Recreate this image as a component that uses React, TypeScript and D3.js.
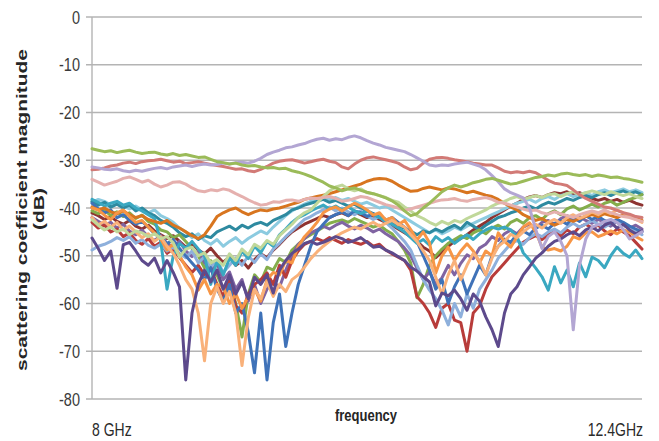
import React from "react";
import * as d3 from "d3";

// frequency grid: 8.00 GHz .. 12.40 GHz, 89 samples
const FREQ_START = 8;
const FREQ_END = 12.4;
const FREQ_STEP = 0.05;
const yTicks = [0, -10, -20, -30, -40, -50, -60, -70, -80];
const xEdgeLabels = ["8 GHz", "12.4GHz"];
const xTitle = "frequency";
const yTitleLines = ["scattering coefficient magnitude", "(dB)"];

const sGreen = [
  -27.6,-27.9,-28.2,-28.0,-28.4,-28.1,-27.9,-28.3,-28.6,-28.4,
  -28.3,-28.7,-28.9,-28.6,-29.0,-28.8,-29.1,-29.4,-29.3,-29.8,
  -30.3,-30.5,-30.8,-30.6,-31.0,-31.2,-31.1,-31.4,-31.6,-31.5,
  -31.8,-31.7,-32.2,-32.5,-32.9,-33.4,-34.0,-34.6,-35.4,-35.8,
  -36.4,-36.0,-35.8,-36.3,-36.7,-37.0,-37.4,-37.9,-38.5,-39.4,
  -40.6,-41.6,-41.2,-40.0,-39.0,-37.8,-36.6,-35.8,-35.2,-35.6,
  -35.2,-34.7,-34.4,-34.0,-33.8,-34.2,-34.6,-35.0,-34.8,-34.4,
  -34.0,-33.6,-33.4,-33.1,-33.3,-32.9,-32.7,-33.0,-33.2,-33.0,
  -33.4,-33.1,-33.3,-33.6,-33.5,-33.8,-34.0,-34.3,-34.6,
];
const sRose = [
  -32.0,-31.9,-31.6,-31.2,-31.0,-30.6,-30.4,-30.7,-30.3,-30.1,
  -30.0,-29.8,-30.1,-30.4,-30.2,-30.7,-30.5,-30.3,-30.6,-30.9,
  -31.1,-31.3,-31.6,-31.9,-31.8,-32.2,-32.4,-31.9,-31.3,-30.6,
  -30.2,-30.0,-29.9,-30.2,-30.6,-30.3,-30.0,-29.8,-30.2,-30.5,
  -31.4,-31.8,-30.8,-30.0,-29.5,-29.3,-29.6,-29.9,-30.2,-30.6,
  -31.4,-32.0,-31.7,-30.6,-29.8,-29.5,-29.4,-29.6,-29.9,-30.1,
  -30.3,-30.6,-30.8,-31.0,-31.0,-31.6,-32.3,-32.6,-32.4,-32.6,
  -32.3,-32.6,-33.4,-34.2,-34.8,-35.0,-35.3,-36.2,-37.2,-38.0,
  -38.6,-39.2,-39.8,-40.0,-40.5,-41.0,-41.3,-41.8,-42.0,
];
const sLavender = [
  -31.4,-31.6,-31.9,-32.0,-31.8,-32.2,-32.4,-32.1,-32.3,-32.0,
  -31.7,-31.5,-31.8,-31.4,-31.2,-31.0,-31.3,-31.0,-30.8,-31.0,
  -30.9,-30.6,-30.8,-30.5,-30.4,-30.6,-30.2,-29.6,-28.8,-28.3,
  -27.9,-27.4,-27.2,-26.8,-26.5,-26.0,-25.6,-25.4,-25.8,-25.5,
  -25.7,-25.2,-24.9,-25.3,-25.9,-26.4,-26.8,-27.3,-27.6,-27.9,
  -28.2,-28.8,-29.5,-30.2,-31.0,-31.2,-31.0,-31.1,-30.8,-30.6,
  -30.4,-30.8,-31.2,-32.0,-33.2,-34.5,-36.0,-36.8,-37.3,-37.9,
  -40.0,-44.5,-48.5,-46.0,-45.0,-47.0,-50.0,-65.5,-52.0,-46.5,
  -44.0,-43.5,-42.8,-42.4,-43.0,-44.5,-46.5,-45.8,-45.0,
];
const sPink = [
  -34.0,-34.6,-35.2,-34.8,-34.4,-33.8,-33.5,-34.0,-34.6,-34.2,
  -35.0,-35.6,-35.2,-34.6,-34.5,-35.0,-35.8,-36.4,-36.6,-36.2,
  -36.4,-36.0,-36.3,-37.0,-37.6,-38.3,-38.9,-39.4,-39.2,-38.7,
  -38.8,-38.4,-38.3,-38.6,-38.2,-37.9,-38.0,-37.8,-37.6,-38.0,
  -38.6,-38.4,-38.0,-37.6,-37.8,-38.3,-38.8,-39.3,-39.6,-40.0,
  -40.5,-40.2,-39.8,-39.4,-39.0,-38.6,-38.3,-38.2,-38.0,-38.4,
  -38.6,-38.2,-38.0,-37.8,-38.2,-38.8,-39.0,-39.4,-39.8,-40.2,
  -40.6,-40.4,-41.0,-41.3,-40.8,-41.2,-41.6,-42.0,-41.4,-41.0,
  -40.6,-41.0,-40.4,-41.0,-41.4,-41.8,-42.0,-42.4,-42.8,
];
const sBrown = [
  -39.8,-40.4,-40.0,-40.8,-41.2,-40.6,-41.4,-42.0,-41.6,-42.4,
  -42.8,-43.2,-42.6,-43.6,-44.2,-45.0,-45.8,-46.4,-45.6,-43.8,
  -41.8,-41.0,-40.4,-40.0,-40.8,-41.4,-40.8,-40.4,-40.6,-40.2,
  -40.0,-39.6,-39.2,-38.8,-38.2,-37.9,-37.6,-37.3,-37.0,-36.6,
  -36.2,-35.8,-35.4,-35.0,-34.4,-34.0,-33.8,-33.9,-34.4,-35.2,
  -35.9,-36.5,-36.4,-35.9,-35.6,-35.9,-36.2,-35.8,-36.0,-36.4,
  -36.8,-36.5,-36.9,-37.3,-37.6,-38.2,-39.0,-39.8,-40.4,-41.4,
  -42.0,-42.6,-42.2,-43.0,-43.6,-43.0,-42.4,-42.8,-42.2,-41.8,
  -41.4,-41.8,-41.2,-41.6,-42.0,-41.4,-41.8,-42.2,-42.6,
];
const sDarkPurple = [
  -46.3,-48.5,-51.0,-49.0,-56.8,-47.7,-47.2,-49.0,-51.0,-52.0,
  -50.5,-53.6,-51.0,-53.5,-56.5,-76.0,-62.0,-56.0,-53.0,-55.5,
  -53.0,-57.0,-54.0,-58.0,-55.5,-59.0,-54.5,-56.0,-54.0,-57.8,
  -53.0,-51.0,-49.5,-48.6,-47.4,-47.0,-47.6,-47.2,-46.6,-46.0,
  -46.4,-47.2,-46.8,-46.2,-47.2,-48.2,-48.0,-48.8,-49.4,-50.2,
  -51.0,-52.4,-53.2,-54.4,-55.5,-60.5,-57.8,-58.4,-57.2,-59.0,
  -61.4,-58.0,-59.5,-62.8,-65.5,-69.0,-62.0,-58.0,-56.5,-54.0,
  -52.3,-50.5,-49.4,-48.0,-47.0,-46.5,-45.6,-45.0,-45.8,-44.6,
  -44.0,-44.8,-43.6,-43.0,-44.2,-43.4,-44.6,-45.4,-44.8,
];
const sPeach = [
  -42.0,-43.5,-42.8,-44.0,-43.0,-44.6,-43.8,-45.0,-46.2,-45.4,
  -47.0,-46.0,-48.0,-49.5,-52.0,-55.0,-57.0,-62.0,-72.0,-60.0,
  -56.5,-60.0,-57.5,-62.0,-73.0,-63.0,-57.0,-59.0,-55.5,-58.5,
  -56.0,-57.5,-55.0,-54.0,-52.4,-50.6,-49.2,-48.0,-47.0,-46.0,
  -45.2,-44.6,-44.0,-44.4,-43.6,-43.0,-43.8,-43.2,-42.6,-43.4,
  -44.0,-45.6,-47.0,-49.0,-51.0,-54.5,-58.0,-54.0,-51.0,-55.0,
  -52.0,-49.5,-51.0,-54.0,-50.5,-48.0,-47.0,-45.5,-46.2,-45.0,
  -44.0,-43.4,-44.2,-43.0,-42.4,-43.2,-42.0,-41.4,-42.2,-41.6,
  -40.8,-41.4,-40.6,-41.2,-40.4,-41.0,-41.8,-42.4,-43.0,
];
const sOrange = [
  -40.0,-40.4,-41.5,-42.4,-41.0,-40.4,-41.8,-43.0,-42.6,-44.0,
  -45.2,-46.5,-48.8,-47.5,-50.0,-52.3,-54.0,-57.2,-55.0,-58.0,
  -56.0,-56.5,-60.0,-58.0,-61.0,-58.6,-57.0,-59.5,-55.0,-53.5,
  -54.0,-51.0,-51.5,-48.0,-46.0,-44.6,-43.0,-41.0,-40.2,-39.8,
  -40.6,-39.8,-39.0,-39.6,-40.4,-41.5,-41.0,-42.5,-42.0,-43.5,
  -42.6,-44.5,-46.7,-45.0,-47.3,-53.6,-50.0,-48.2,-51.0,-49.0,
  -47.5,-49.0,-51.5,-49.0,-50.0,-45.2,-47.0,-48.2,-46.0,-44.0,
  -43.1,-45.0,-48.2,-48.8,-48.5,-49.0,-48.0,-46.0,-46.5,-45.2,
  -45.0,-46.0,-45.5,-44.8,-45.4,-44.6,-45.0,-46.0,-46.7,
];
const sBlue = [
  -39.0,-40.2,-41.0,-40.4,-42.0,-41.4,-42.6,-43.4,-42.8,-44.0,
  -45.4,-46.0,-47.5,-46.6,-48.5,-50.0,-51.5,-53.0,-55.0,-52.5,
  -57.0,-59.5,-56.0,-62.0,-60.0,-66.0,-74.5,-62.0,-76.0,-64.0,
  -58.0,-69.0,-62.0,-56.0,-52.0,-48.0,-45.0,-43.4,-42.0,-41.4,
  -40.8,-41.6,-40.6,-41.0,-41.8,-41.2,-42.0,-42.6,-42.0,-43.0,
  -44.0,-45.2,-47.0,-50.0,-53.0,-57.0,-55.0,-60.0,-56.5,-54.0,
  -58.0,-55.0,-52.0,-54.0,-50.0,-48.0,-46.5,-47.2,-45.5,-44.8,
  -45.6,-44.2,-43.6,-44.4,-43.2,-42.6,-43.4,-42.0,-42.8,-41.6,
  -42.4,-41.8,-42.6,-43.2,-42.4,-43.0,-43.8,-44.4,-45.0,
];
const sLightBlue = [
  -48.8,-48.0,-47.6,-47.0,-46.2,-46.8,-46.0,-47.4,-46.6,-47.8,
  -48.4,-47.6,-49.0,-48.2,-49.6,-50.4,-49.0,-51.5,-50.2,-52.4,
  -51.0,-53.5,-52.0,-50.5,-52.0,-50.0,-51.4,-49.6,-50.8,-48.6,
  -47.4,-46.0,-44.8,-43.6,-42.4,-41.8,-41.0,-40.4,-39.8,-40.6,
  -40.0,-40.8,-41.4,-40.6,-41.6,-42.4,-41.8,-43.0,-44.2,-45.6,
  -47.0,-48.8,-52.0,-55.0,-57.2,-59.0,-61.4,-64.5,-60.0,-62.8,
  -58.0,-61.0,-57.0,-55.0,-53.0,-50.5,-49.0,-47.5,-46.8,-47.6,
  -46.2,-45.4,-46.0,-45.0,-44.4,-45.2,-44.0,-43.2,-44.0,-43.4,
  -42.6,-43.4,-44.0,-43.2,-42.8,-43.6,-44.2,-44.8,-45.6,
];
const sDarkRed = [
  -43.0,-44.2,-43.6,-45.0,-44.4,-46.0,-45.2,-46.8,-47.6,-46.4,
  -48.0,-47.2,-49.5,-48.6,-50.4,-52.0,-53.5,-52.0,-54.0,-52.6,
  -56.0,-58.5,-55.0,-60.5,-62.0,-58.0,-56.0,-55.0,-53.6,-56.0,
  -52.0,-54.5,-51.0,-49.0,-47.6,-47.0,-46.4,-47.0,-46.2,-46.8,
  -47.4,-46.6,-47.2,-47.6,-47.0,-48.0,-47.6,-48.8,-49.6,-50.3,
  -51.0,-53.0,-58.6,-60.0,-62.0,-65.0,-61.0,-60.0,-63.5,-64.0,
  -70.0,-62.0,-60.5,-57.0,-54.4,-53.0,-51.5,-50.0,-48.6,-47.2,
  -46.4,-45.8,-46.6,-45.6,-45.0,-45.8,-44.6,-45.4,-44.0,-43.4,
  -44.2,-43.6,-44.8,-45.6,-44.4,-45.0,-45.8,-47.2,-48.6,
];
const sMidGreen = [
  -40.6,-41.2,-40.4,-41.6,-40.8,-41.8,-41.0,-42.2,-41.5,-42.8,
  -43.4,-44.6,-45.0,-46.2,-45.6,-47.0,-48.5,-50.0,-52.5,-51.0,
  -54.0,-57.0,-55.5,-60.0,-67.0,-58.0,-54.0,-55.5,-52.4,-53.0,
  -50.6,-51.4,-48.8,-47.6,-46.4,-45.6,-44.8,-44.0,-43.2,-42.8,
  -42.5,-43.0,-42.2,-42.8,-43.4,-44.0,-43.6,-44.6,-45.4,-47.0,
  -48.8,-51.5,-58.8,-56.0,-52.0,-50.0,-48.6,-47.4,-46.6,-45.8,
  -46.4,-45.2,-44.6,-45.4,-44.2,-43.6,-44.4,-43.0,-42.4,-43.2,
  -42.0,-41.6,-42.4,-41.2,-40.6,-41.4,-40.2,-39.6,-40.4,-39.8,
  -39.2,-39.8,-39.0,-38.6,-39.4,-38.8,-38.2,-37.8,-37.2,
];
const sPaleGreen = [
  -42.5,-43.6,-44.6,-44.0,-45.0,-44.4,-45.6,-44.8,-45.2,-46.0,
  -45.4,-46.4,-46.0,-47.3,-50.3,-48.6,-48.2,-50.0,-49.4,-51.5,
  -50.8,-52.0,-49.6,-51.0,-48.6,-49.8,-47.6,-48.4,-46.8,-47.6,
  -45.8,-44.6,-43.4,-42.0,-41.0,-40.4,-39.0,-37.6,-36.4,-35.6,
  -35.2,-36.0,-36.4,-36.0,-36.8,-37.0,-37.4,-37.8,-38.4,-38.8,
  -39.8,-40.6,-41.6,-42.2,-43.0,-43.6,-42.8,-43.4,-42.6,-43.0,
  -42.2,-41.6,-41.0,-40.4,-39.6,-39.0,-38.6,-38.0,-37.6,-38.2,
  -37.8,-37.4,-37.8,-37.2,-37.0,-37.6,-37.0,-36.6,-37.2,-36.8,
  -36.4,-36.8,-37.2,-36.6,-37.0,-37.4,-37.0,-37.6,-38.0,
];
const sTeal = [
  -38.6,-39.4,-38.8,-39.8,-39.2,-40.0,-39.4,-40.6,-40.0,-41.0,
  -41.6,-42.6,-43.2,-44.0,-45.2,-46.0,-45.4,-46.6,-45.8,-46.2,
  -45.0,-44.4,-43.8,-44.6,-43.6,-44.2,-43.4,-43.0,-43.6,-42.6,
  -42.0,-41.4,-40.4,-40.0,-39.4,-39.0,-38.6,-38.2,-38.8,-38.4,
  -39.0,-39.6,-39.2,-40.0,-40.6,-41.2,-41.8,-42.4,-43.0,-43.8,
  -44.2,-44.8,-45.6,-44.8,-45.2,-44.4,-45.0,-44.2,-43.6,-44.4,
  -43.0,-43.8,-44.6,-43.6,-42.8,-42.0,-41.6,-41.0,-40.6,-40.0,
  -39.6,-40.2,-39.4,-38.8,-39.2,-38.6,-38.0,-38.4,-37.8,-37.4,
  -37.8,-37.2,-36.8,-37.4,-36.8,-36.4,-37.0,-36.6,-37.2,
];
const sCyan = [
  -38.2,-38.8,-39.6,-39.0,-38.6,-39.4,-39.0,-40.0,-40.6,-41.4,
  -42.2,-47.0,-57.0,-50.0,-47.5,-48.4,-47.0,-48.6,-50.0,-56.0,
  -51.0,-54.0,-50.5,-52.0,-49.0,-50.6,-48.0,-49.4,-47.0,-48.0,
  -45.6,-44.4,-43.0,-42.0,-41.4,-40.6,-40.0,-39.4,-40.2,-39.6,
  -40.4,-39.8,-40.6,-41.2,-40.6,-41.4,-42.0,-42.8,-43.4,-44.2,
  -45.0,-46.2,-47.4,-46.6,-47.8,-46.0,-47.0,-46.2,-47.4,-46.4,
  -45.6,-46.6,-45.4,-44.6,-44.0,-44.4,-44.0,-44.6,-46.0,-49.4,
  -50.9,-52.6,-54.4,-57.2,-52.3,-55.7,-53.0,-56.5,-51.5,-54.4,
  -50.3,-51.0,-52.5,-50.0,-48.2,-49.5,-50.3,-48.8,-50.6,
];
const sMaroon = [
  -41.0,-41.6,-42.4,-41.8,-42.8,-43.4,-42.6,-43.8,-44.4,-43.6,
  -44.8,-45.6,-46.4,-45.8,-47.0,-48.2,-47.4,-48.8,-49.6,-48.4,
  -50.0,-51.4,-50.2,-52.0,-51.0,-52.6,-50.8,-49.6,-50.4,-48.8,
  -47.6,-46.2,-45.0,-44.2,-43.4,-42.8,-42.2,-41.6,-42.0,-41.4,
  -41.0,-41.6,-40.8,-41.4,-42.0,-41.6,-42.4,-43.0,-43.6,-44.4,
  -45.2,-46.0,-47.0,-48.2,-49.0,-50.4,-49.2,-48.0,-47.0,-46.4,
  -45.6,-44.6,-43.8,-43.0,-42.0,-41.2,-40.4,-39.6,-39.0,-38.2,
  -37.7,-37.4,-37.8,-37.2,-36.8,-37.0,-36.6,-37.2,-36.8,-37.4,
  -38.0,-38.4,-38.0,-38.6,-38.2,-38.8,-38.4,-39.0,-39.4,
];
const sPurple = [
  -42.0,-42.8,-43.6,-43.0,-44.2,-43.4,-44.8,-45.6,-44.6,-46.0,
  -46.8,-45.8,-47.4,-48.2,-47.0,-49.0,-50.2,-49.0,-51.4,-53.0,
  -51.6,-55.0,-53.4,-57.0,-55.0,-59.5,-56.0,-60.0,-57.0,-55.4,
  -56.6,-53.0,-50.0,-47.6,-46.4,-45.2,-44.6,-43.8,-44.4,-43.6,
  -43.0,-43.8,-44.4,-43.6,-44.2,-45.0,-44.4,-45.4,-46.2,-47.0,
  -48.4,-50.0,-52.6,-55.0,-53.4,-56.0,-54.6,-52.0,-54.0,-51.6,
  -49.8,-50.6,-48.4,-47.6,-46.0,-46.8,-45.4,-44.6,-45.4,-44.0,
  -43.4,-44.2,-43.0,-42.6,-43.4,-42.2,-41.6,-42.4,-41.8,-42.6,
  -43.2,-42.4,-43.0,-43.8,-42.8,-43.6,-44.2,-43.6,-44.4,
];
const sLightCyan = [
  -38.8,-38.2,-38.6,-39.4,-38.8,-39.6,-40.2,-39.6,-40.4,-41.0,
  -40.4,-41.6,-42.2,-43.0,-44.2,-45.0,-46.2,-45.4,-46.8,-47.6,
  -46.6,-48.0,-47.0,-46.2,-47.4,-46.4,-45.6,-44.8,-45.4,-44.0,
  -42.8,-41.6,-40.6,-39.8,-39.2,-38.6,-38.0,-37.6,-38.2,-37.8,
  -38.4,-38.0,-38.6,-39.2,-38.8,-39.4,-40.0,-39.6,-40.4,-41.2,
  -42.0,-42.8,-43.6,-44.4,-45.2,-44.6,-45.4,-44.8,-44.0,-44.6,
  -43.8,-43.2,-42.6,-42.0,-41.4,-40.8,-40.2,-39.6,-39.0,-38.6,
  -38.2,-38.8,-38.0,-37.6,-38.2,-37.4,-37.0,-37.6,-37.2,-36.8,
  -37.4,-36.6,-36.2,-36.8,-36.4,-36.0,-36.6,-36.2,-36.8,
];

const seriesList: { values: number[]; color: string }[] = [
  { values: sMaroon, color: "#8e3331" },
  { values: sLightCyan, color: "#8ccbe0" },
  { values: sTeal, color: "#2e8aa0" },
  { values: sMidGreen, color: "#84ad4b" },
  { values: sPurple, color: "#8064a2" },
  { values: sDarkRed, color: "#b83c3a" },
  { values: sLightBlue, color: "#8eb0dc" },
  { values: sBlue, color: "#3f72b8" },
  { values: sCyan, color: "#3aa8c1" },
  { values: sBrown, color: "#d8751f" },
  { values: sOrange, color: "#f79646" },
  { values: sPeach, color: "#f9b17a" },
  { values: sPaleGreen, color: "#c0d89a" },
  { values: sDarkPurple, color: "#5d4a8c" },
  { values: sPink, color: "#e5b0ae" },
  { values: sRose, color: "#d27a76" },
  { values: sLavender, color: "#b3a6d3" },
  { values: sGreen, color: "#9bbb59" },
];

export default function App() {
  const W = 659;
  const H = 441;
  const x = d3.scaleLinear().domain([FREQ_START, FREQ_END]).range([92, 642]);
  const y = d3.scaleLinear().domain([-80, 0]).range([399, 17]);
  const line = d3
    .line<number>()
    .x((_, i) => x(FREQ_START + i * FREQ_STEP))
    .y((d) => y(d));
  const tickFont = "'Liberation Sans', Arial, sans-serif";

  return (
    <svg
      width={W}
      height={H}
      style={{ position: "absolute", left: 0, top: 0, background: "#fff" }}
    >
      <rect x={0} y={0} width={W} height={H} fill="#fff" />
      {yTicks.map((t) => (
        <line
          key={"g" + t}
          x1={86}
          x2={642}
          y1={y(t)}
          y2={y(t)}
          stroke="#b4b4b4"
          strokeWidth={1.4}
        />
      ))}
      <line x1={92} x2={92} y1={y(0)} y2={y(-80)} stroke="#b4b4b4" strokeWidth={1.4} />
      {yTicks.map((t) => (
        <text
          key={"t" + t}
          transform={`translate(80, ${y(t)}) scale(1, 1.25)`}
          textAnchor="end"
          dy="0.36em"
          fontFamily={tickFont}
          fontSize={14.5}
          fill="#3a3a3a"
        >
          {t}
        </text>
      ))}
      <g fill="none" strokeWidth={3} strokeLinejoin="round" strokeLinecap="round">
        {seriesList.map((s, k) => (
          <path key={k} d={line(s.values) || ""} stroke={s.color} />
        ))}
      </g>
      <text
        transform={`translate(92, 436) scale(1, 1.25)`}
        textAnchor="start"
        fontFamily={tickFont}
        fontSize={14}
        fill="#2a2a2a"
      >
        {xEdgeLabels[0]}
      </text>
      <text
        transform={`translate(643, 436) scale(1, 1.25)`}
        textAnchor="end"
        fontFamily={tickFont}
        fontSize={14}
        fill="#2a2a2a"
      >
        {xEdgeLabels[1]}
      </text>
      <text
        transform={`translate(366, 421) scale(1, 1.28)`}
        textAnchor="middle"
        fontFamily={tickFont}
        fontWeight="bold"
        fontSize={13}
        fill="#262626"
      >
        {xTitle}
      </text>
      <text
        transform={`translate(27, 210) rotate(-90) scale(1.55, 1.05)`}
        textAnchor="middle"
        fontFamily={tickFont}
        fontWeight="bold"
        fontSize={13.5}
        fill="#262626"
      >
        {yTitleLines[0]}
      </text>
      <text
        transform={`translate(44, 209) rotate(-90) scale(1.55, 1.05)`}
        textAnchor="middle"
        fontFamily={tickFont}
        fontWeight="bold"
        fontSize={13.5}
        fill="#262626"
      >
        {yTitleLines[1]}
      </text>
    </svg>
  );
}
